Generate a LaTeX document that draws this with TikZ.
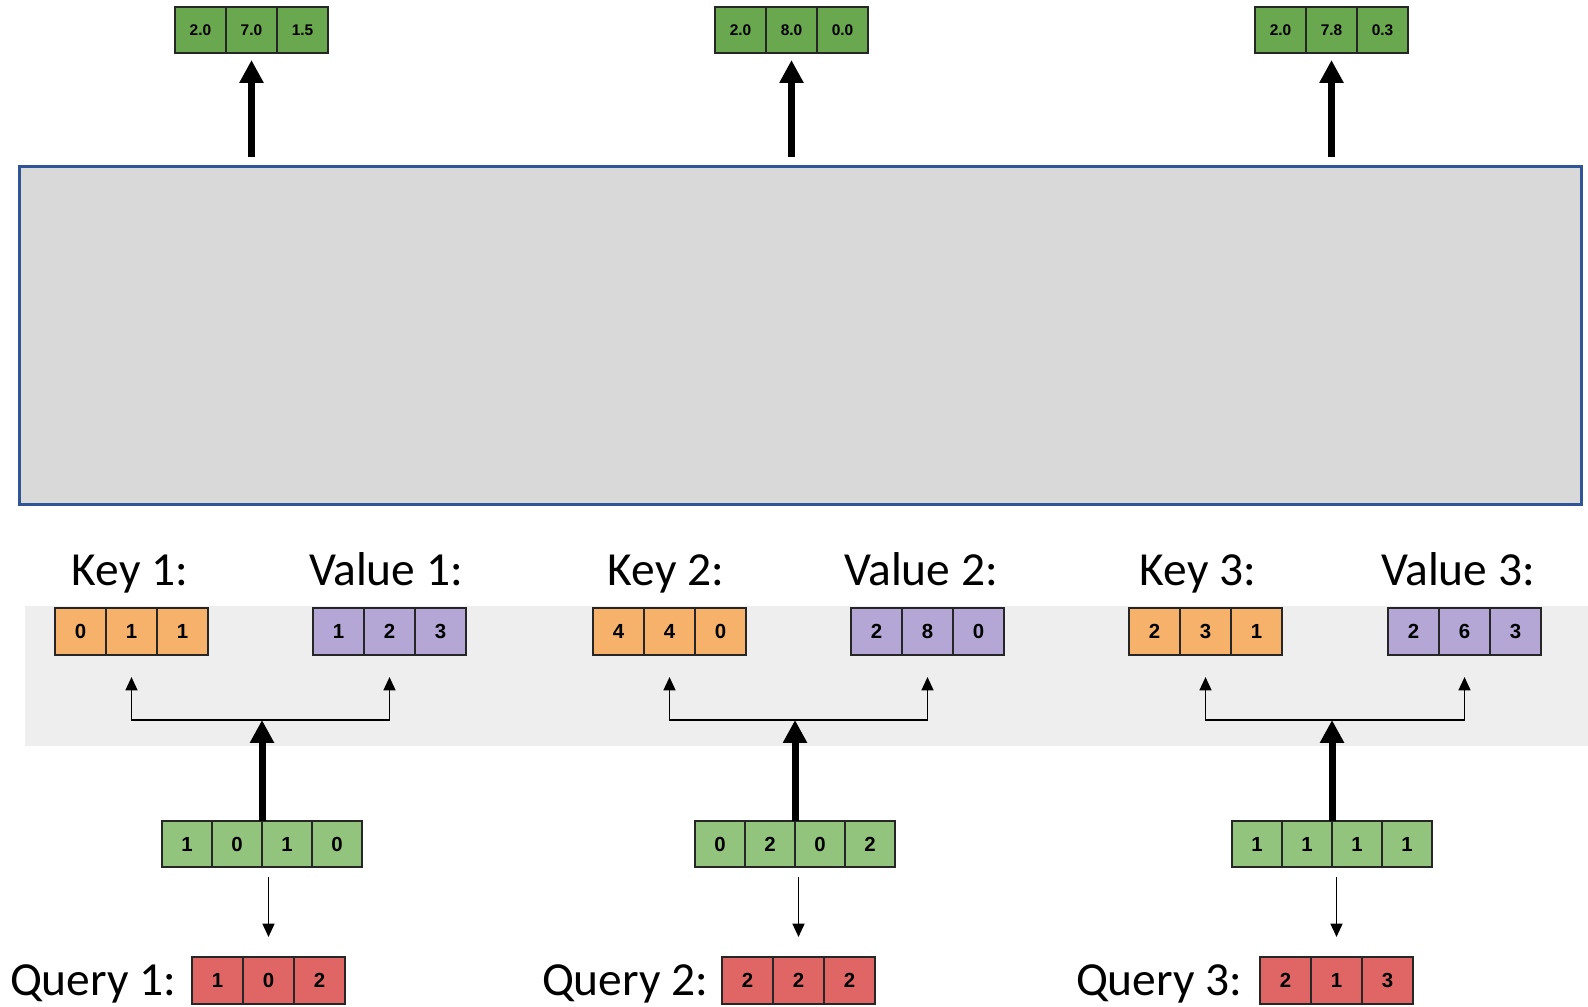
\documentclass[tikz,border=0pt]{standalone}
\usepackage{fontspec}
\setmainfont{Carlito}
\newfontfamily\digitfont{Liberation Sans}
\usetikzlibrary{arrows.meta}

\definecolor{outgreen}{HTML}{6AA84F}
\definecolor{ingreen}{HTML}{93C47D}
\definecolor{keyorange}{HTML}{F6B26B}
\definecolor{valpurple}{HTML}{B4A7D6}
\definecolor{qred}{HTML}{E06666}
\definecolor{mainfill}{HTML}{D9D9D9}
\definecolor{mainline}{HTML}{2F5597}
\definecolor{bandfill}{HTML}{EEEEEE}

\tikzset{
	cell/.style={draw=black!85, line width=0.55pt, minimum width=0.51cm, minimum height=0.47cm,
		inner sep=0pt, outer sep=0pt, font=\digitfont\bfseries\fontsize{5.8}{6}\selectfont},
	outcell/.style={cell, fill=outgreen, minimum height=0.46cm, font=\digitfont\bfseries\fontsize{4.4}{5}\selectfont},
	incell/.style={cell, fill=ingreen, minimum width=0.50cm, minimum height=0.46cm},
	keycell/.style={cell, fill=keyorange},
	valcell/.style={cell, fill=valpurple},
	qcell/.style={cell, fill=qred},
	mainbox/.style={draw=mainline, line width=0.85pt, fill=mainfill, minimum width=15.61cm, minimum height=3.37cm},
	lbl/.style={font=\fontsize{13.5}{16}\selectfont, inner sep=0pt, anchor=base},
	bigarrow/.style={line width=2pt, -{Triangle[width=6.5pt,length=6.5pt]}},
	thinarrow/.style={line width=0.5pt, -{Triangle[width=3.4pt,length=3.8pt]}},
}

% one row of cells: name, style, x of first centre, y, step, entries
\newcommand\vecrow[6]{%
	\foreach \e [count=\i] in {#6}
		\node[#2] (#1-\i) at ({#3+(\i-1)*#5}, #4) {\e};}

\begin{document}
\begin{tikzpicture}[x=0.01cm, y=-0.01cm]
	\useasboundingbox (0,0) rectangle (1588,1006);
	
	%light band behind keys and values
	\fill[bandfill] (25,606) rectangle (1588,746);
	
	%big gray block
	\node[mainbox] (main) at (800.5,335.5) {};
	
	%outputs
	\vecrow{out1}{outcell}{200.5}{30}{51}{2.0,7.0,1.5}
	\vecrow{out2}{outcell}{740.5}{30}{51}{2.0,8.0,0.0}
	\vecrow{out3}{outcell}{1280.5}{30}{51}{2.0,7.8,0.3}
	\foreach \n in {1,2,3}
		\draw[bigarrow, shorten <=2.5pt] (main.north -| out\n-2) -- ([yshift=-0.07cm]out\n-2.south);
	
	%keys and values
	\node[lbl] (k1l) at (130,585) {Key 1:};
	\node[lbl] (v1l) at (386,585) {Value 1:};
	\node[lbl] (k2l) at (666,585) {Key 2:};
	\node[lbl] (v2l) at (921,585) {Value 2:};
	\node[lbl] (k3l) at (1198,585) {Key 3:};
	\node[lbl] (v3l) at (1458,585) {Value 3:};
	\vecrow{k1}{keycell}{80.5}{631.5}{51}{0,1,1}
	\vecrow{v1}{valcell}{338.5}{631.5}{51}{1,2,3}
	\vecrow{k2}{keycell}{618.5}{631.5}{51}{4,4,0}
	\vecrow{v2}{valcell}{876.5}{631.5}{51}{2,8,0}
	\vecrow{k3}{keycell}{1154.5}{631.5}{51}{2,3,1}
	\vecrow{v3}{valcell}{1413.5}{631.5}{51}{2,6,3}
	
	%inputs
	\vecrow{in1}{incell}{187}{844}{50}{1,0,1,0}
	\vecrow{in2}{incell}{720}{844}{50}{0,2,0,2}
	\vecrow{in3}{incell}{1257}{844}{50}{1,1,1,1}
	
	%queries
	\node[lbl, anchor=base east] (q1l) at (177,995) {Query 1:};
	\node[lbl, anchor=base east] (q2l) at (709,995) {Query 2:};
	\node[lbl, anchor=base east] (q3l) at (1243,995) {Query 3:};
	\vecrow{q1}{qcell}{217.5}{980.5}{51}{1,0,2}
	\vecrow{q2}{qcell}{747.5}{980.5}{51}{2,2,2}
	\vecrow{q3}{qcell}{1285.5}{980.5}{51}{2,1,3}
	
	%forks
	\foreach \n in {1,2,3} {
		\coordinate (fork\n) at (in\n-2.north east |- 0,720);
		\draw[bigarrow] (in\n-2.north east) -- (fork\n);
		\draw[thinarrow] (fork\n) -| ([yshift=-0.22cm]k\n-2.south);
		\draw[thinarrow] (fork\n) -| ([yshift=-0.22cm]v\n-2.south);
		\draw[thinarrow, shorten <=0.1cm, shorten >=0.2cm] (in\n-3.south -| q\n-2) -- (q\n-2.north);
	}
\end{tikzpicture}
\end{document}
